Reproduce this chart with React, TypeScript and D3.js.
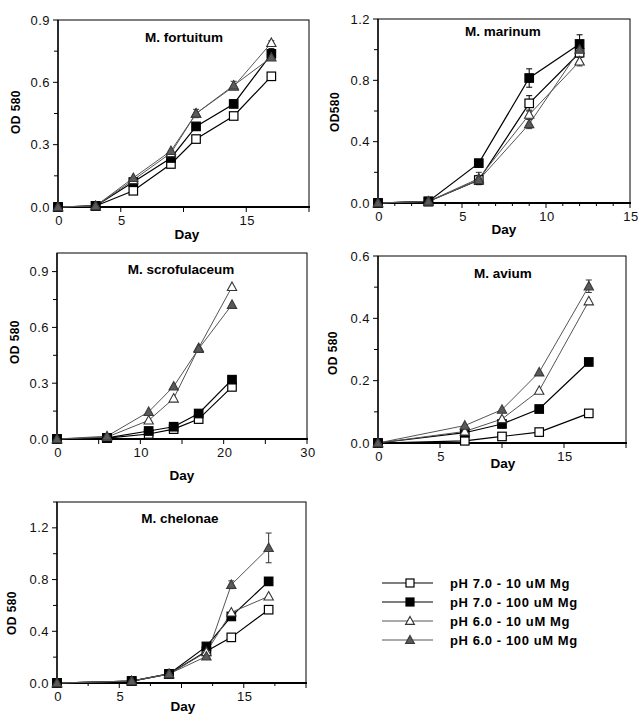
import React from "react";
import * as d3 from "d3";

// ---------- DATA ----------
const seriesNames = ["pH 7.0 - 10 uM Mg", "pH 7.0 - 100 uM Mg", "pH 6.0 - 10 uM Mg", "pH 6.0 - 100 uM Mg"];

const fortuitumDays = [0, 3, 6, 9, 11, 14, 17];
const fortuitumP7_10 = [0, 0.005, 0.078, 0.207, 0.327, 0.438, 0.629];
const fortuitumP7_100 = [0, 0.005, 0.12, 0.236, 0.388, 0.496, 0.737];
const fortuitumP6_10 = [0, 0.005, 0.13, 0.26, 0.45, 0.58, 0.79];
const fortuitumP6_100 = [0, 0.005, 0.14, 0.27, 0.45, 0.585, 0.72];
const fortuitumErr = [
  [0, 0, 0, 0, 0, 0, 0],
  [0, 0, 0, 0, 0, 0, 0.025],
  [0, 0, 0, 0, 0, 0, 0.01],
  [0, 0, 0, 0, 0.02, 0.02, 0.01],
];

const marinumDays = [0, 3, 6, 9, 12];
const marinumP7_10 = [0, 0.01, 0.15, 0.65, 0.98];
const marinumP7_100 = [0, 0.01, 0.26, 0.815, 1.037];
const marinumP6_10 = [0, 0.01, 0.16, 0.576, 0.924];
const marinumP6_100 = [0, 0.01, 0.15, 0.515, 1.0];
const marinumErr = [
  [0, 0, 0.02, 0.05, 0.03],
  [0, 0, 0, 0.06, 0.06],
  [0, 0, 0.04, 0.03, 0.03],
  [0, 0, 0.03, 0.03, 0.03],
];

const scrofDays = [0, 6, 11, 14, 17, 21];
const scrofP7_10 = [0, 0.005, 0.027, 0.053, 0.107, 0.28];
const scrofP7_100 = [0, 0.006, 0.043, 0.066, 0.137, 0.319];
const scrofP6_10 = [0, 0.01, 0.1, 0.218, 0.49, 0.818];
const scrofP6_100 = [0, 0.015, 0.146, 0.283, 0.485, 0.722];
const scrofErr = [
  [0, 0, 0, 0, 0, 0],
  [0, 0, 0, 0, 0, 0],
  [0, 0, 0, 0, 0, 0],
  [0, 0, 0, 0, 0, 0],
];

const aviumDays = [0, 7, 10, 13, 17];
const aviumP7_10 = [0, 0.007, 0.021, 0.035, 0.095];
const aviumP7_100 = [0, 0.033, 0.061, 0.109, 0.26];
const aviumP6_10 = [0, 0.037, 0.077, 0.168, 0.455];
const aviumP6_100 = [0, 0.056, 0.107, 0.227, 0.503];
const aviumErr = [
  [0, 0, 0, 0, 0],
  [0, 0, 0, 0, 0],
  [0, 0, 0, 0, 0],
  [0, 0, 0, 0, 0.02],
];

const chelonaeDays = [0, 6, 9, 12, 14, 17];
const chelonaeP7_10 = [0, 0.015, 0.07, 0.245, 0.353, 0.567];
const chelonaeP7_100 = [0, 0.015, 0.07, 0.283, 0.515, 0.786];
const chelonaeP6_10 = [0, 0.015, 0.07, 0.24, 0.546, 0.67];
const chelonaeP6_100 = [0, 0.015, 0.07, 0.206, 0.76, 1.045];
const chelonaeErr = [
  [0, 0, 0, 0, 0, 0],
  [0, 0, 0, 0, 0, 0.03],
  [0, 0, 0, 0, 0, 0],
  [0, 0, 0, 0, 0.03, 0.115],
];

// tick labels
const fortuitumYTicks = [0, 0.3, 0.6, 0.9];
const fortuitumXLabels = [0, 5, 15];
const marinumYTicks = [0, 0.4, 0.8, 1.2];
const marinumXLabels = [0, 5, 10, 15];
const scrofYTicks = [0, 0.3, 0.6, 0.9];
const scrofXLabels = [0, 10, 20, 30];
const aviumYTicks = [0, 0.2, 0.4, 0.6];
const aviumXLabels = [0, 5, 15];
const chelonaeYTicks = [0, 0.4, 0.8, 1.2];
const chelonaeXLabels = [0, 5, 15];

// ---------- LAYOUT / STYLE ----------
const FONT = "'Liberation Sans', Arial, Helvetica, sans-serif";
const styles = [
  { stroke: "#000", fill: "#fff", shape: "square", line: "#000", lw: 1.2 },
  { stroke: "#000", fill: "#000", shape: "square", line: "#000", lw: 1.2 },
  { stroke: "#333", fill: "#fff", shape: "triangle", line: "#555", lw: 1 },
  { stroke: "#3a3a3a", fill: "#5a5a5a", shape: "triangle", line: "#555", lw: 1 },
];

const panels = [
  {
    title: "M. fortuitum", ylab: "OD 580",
    days: fortuitumDays, series: [fortuitumP7_10, fortuitumP7_100, fortuitumP6_10, fortuitumP6_100], err: fortuitumErr,
    left: 58, top: 20, right: 309, bottom: 207, xMax: 20, yMax: 0.9,
    yTicks: fortuitumYTicks, yMinor: 0.15, xStep: 5, xMinor: 0, xLabels: fortuitumXLabels,
    titleX: 184, titleY: 42, dayX: 187, dayY: 239, ylabX: 20, ylabY: 112,
  },
  {
    title: "M. marinum", ylab: "OD580",
    days: marinumDays, series: [marinumP7_10, marinumP7_100, marinumP6_10, marinumP6_100], err: marinumErr,
    left: 378, top: 19, right: 630, bottom: 203, xMax: 15, yMax: 1.2,
    yTicks: marinumYTicks, yMinor: 0.2, xStep: 5, xMinor: 1, xLabels: marinumXLabels,
    titleX: 503, titleY: 36, dayX: 504, dayY: 234, ylabX: 339, ylabY: 112,
  },
  {
    title: "M. scrofulaceum", ylab: "OD 580",
    days: scrofDays, series: [scrofP7_10, scrofP7_100, scrofP6_10, scrofP6_100], err: scrofErr,
    left: 57, top: 253, right: 307, bottom: 439, xMax: 30, yMax: 1.0,
    yTicks: scrofYTicks, yMinor: 0.15, xStep: 5, xMinor: 0, xLabels: scrofXLabels,
    titleX: 181, titleY: 274, dayX: 182, dayY: 480, ylabX: 19, ylabY: 342,
  },
  {
    title: "M. avium", ylab: "OD 580",
    days: aviumDays, series: [aviumP7_10, aviumP7_100, aviumP6_10, aviumP6_100], err: aviumErr,
    left: 378, top: 256, right: 626, bottom: 443, xMax: 20, yMax: 0.6,
    yTicks: aviumYTicks, yMinor: 0.1, xStep: 5, xMinor: 0, xLabels: aviumXLabels,
    titleX: 503, titleY: 278, dayX: 503, dayY: 468, ylabX: 337, ylabY: 353,
  },
  {
    title: "M. chelonae", ylab: "OD 580",
    days: chelonaeDays, series: [chelonaeP7_10, chelonaeP7_100, chelonaeP6_10, chelonaeP6_100], err: chelonaeErr,
    left: 57, top: 502, right: 306, bottom: 683, xMax: 20, yMax: 1.4,
    yTicks: chelonaeYTicks, yMinor: 0.2, xStep: 5, xMinor: 2.5, xLabels: chelonaeXLabels,
    titleX: 180, titleY: 523, dayX: 183, dayY: 711, ylabX: 16, ylabY: 613,
  },
];

function Marker({ x, y, s, size = 8.5 }: any) {
  if (s.shape === "square") {
    return <rect x={x - size / 2} y={y - size / 2} width={size} height={size} fill={s.fill} stroke={s.stroke} strokeWidth={1.2} />;
  }
  const h = size * 0.95;
  const w = size * 1.1;
  const p = `M${x},${y - h * 0.6} L${x + w / 2},${y + h * 0.45} L${x - w / 2},${y + h * 0.45} Z`;
  return <path d={p} fill={s.fill} stroke={s.stroke} strokeWidth={1.1} strokeLinejoin="miter" />;
}

function Panel({ p }: any) {
  const x = d3.scaleLinear().domain([0, p.xMax]).range([p.left, p.right]);
  const y = d3.scaleLinear().domain([0, p.yMax]).range([p.bottom, p.top]);
  const line = d3.line<number>();
  const xMajor = d3.range(0, p.xMax + 0.001, p.xStep);
  const xMinorT = p.xMinor ? d3.range(0, p.xMax + 0.001, p.xMinor).filter((v) => Math.abs(v / p.xStep - Math.round(v / p.xStep)) > 1e-6) : [];
  const yMinorT = d3.range(0, p.yMax + 0.0001, p.yMinor).filter((v) => !p.yTicks.some((t: number) => Math.abs(t - v) < 1e-6));
  return (
    <g>
      <rect x={p.left} y={p.top} width={p.right - p.left} height={p.bottom - p.top} fill="none" stroke="#000" strokeWidth={1} />
      <line x1={p.left} x2={p.right + 1} y1={p.bottom} y2={p.bottom} stroke="#000" strokeWidth={2} />
      <line x1={p.left} x2={p.left} y1={p.top} y2={p.bottom} stroke="#000" strokeWidth={1.3} />
      {p.yTicks.map((t: number) => (
        <g key={"yt" + t}>
          <line x1={p.left - 5} x2={p.left} y1={y(t)} y2={y(t)} stroke="#000" strokeWidth={1} />
          <text x={p.left - 8} y={y(t)} dy="0.35em" textAnchor="end" fontSize={13} letterSpacing={0.5} fontFamily={FONT} fill="#111">
            {d3.format(".1f")(t)}
          </text>
        </g>
      ))}
      {yMinorT.map((t: number) => (
        <line key={"ym" + t} x1={p.left - 4} x2={p.left} y1={y(t)} y2={y(t)} stroke="#000" strokeWidth={1} />
      ))}
      {xMajor.map((t: number) => (
        <line key={"xt" + t} x1={x(t)} x2={x(t)} y1={p.bottom} y2={p.bottom + 5} stroke="#000" strokeWidth={1} />
      ))}
      {xMinorT.map((t: number) => (
        <line key={"xm" + t} x1={x(t)} x2={x(t)} y1={p.bottom} y2={p.bottom + 3} stroke="#000" strokeWidth={1} />
      ))}
      {p.xLabels.map((t: number) => (
        <text key={"xl" + t} x={x(t) + 1} y={p.bottom + 18} textAnchor="middle" fontSize={13} letterSpacing={0.5} fontFamily={FONT} fill="#111">
          {t}
        </text>
      ))}
      <text x={p.titleX} y={p.titleY} textAnchor="middle" fontSize={13.5} fontWeight="bold" fontFamily={FONT}>{p.title}</text>
      <text x={p.dayX} y={p.dayY} textAnchor="middle" fontSize={13.5} fontWeight="bold" fontFamily={FONT}>Day</text>
      <text transform={`translate(${p.ylabX},${p.ylabY}) rotate(-90)`} textAnchor="middle" fontSize={12} letterSpacing={0.4} fontWeight="bold" fontFamily={FONT}>{p.ylab}</text>
      {p.series.map((vals: number[], i: number) => (
        <path key={"l" + i} d={line(vals.map((v, j) => [x(p.days[j]), y(v)]) as any) || ""} fill="none" stroke={styles[i].line} strokeWidth={styles[i].lw} />
      ))}
      {p.series.map((vals: number[], i: number) =>
        vals.map((v, j) => {
          const e = p.err[i][j];
          if (!e) return null;
          const cx = x(p.days[j]);
          return (
            <g key={"e" + i + "-" + j} stroke={i >= 2 ? "#333" : "#000"} strokeWidth={1}>
              <line x1={cx} x2={cx} y1={y(v - e)} y2={y(v + e)} />
              <line x1={cx - 3} x2={cx + 3} y1={y(v + e)} y2={y(v + e)} />
              <line x1={cx - 3} x2={cx + 3} y1={y(v - e)} y2={y(v - e)} />
            </g>
          );
        })
      )}
      {p.series.map((vals: number[], i: number) =>
        vals.map((v, j) => <Marker key={"m" + i + "-" + j} x={x(p.days[j])} y={y(v)} s={styles[i]} />)
      )}
    </g>
  );
}

function Legend() {
  const lx1 = 382, lx2 = 433, mx = 410, tx = 450;
  const rowY = d3.scaleLinear().domain([0, 3]).range([583, 640]);
  return (
    <g>
      {seriesNames.map((name, i) => (
        <g key={name}>
          <line x1={lx1} x2={lx2} y1={rowY(i)} y2={rowY(i)} stroke={styles[i].line} strokeWidth={styles[i].lw} />
          <Marker x={mx} y={rowY(i)} s={styles[i]} size={8} />
          <text x={tx} y={rowY(i)} dy="0.36em" fontSize={13} letterSpacing={0.6} fontWeight="bold" fontFamily={FONT}>{name}</text>
        </g>
      ))}
    </g>
  );
}

export default function App() {
  return (
    <svg width={638} height={723} style={{ position: "absolute", left: 0, top: 0, background: "#fff" }}>
      <rect width={638} height={723} fill="#fff" />
      {panels.map((p) => <Panel key={p.title} p={p} />)}
      <Legend />
    </svg>
  );
}
